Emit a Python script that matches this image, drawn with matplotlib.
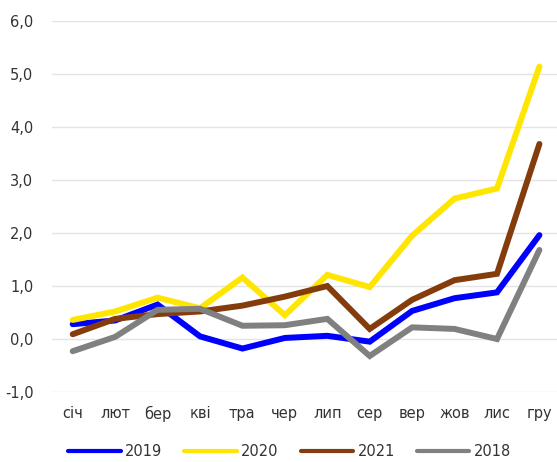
import numpy as np
import matplotlib.pyplot as plt
from matplotlib.ticker import FuncFormatter

months = ['січ', 'лют', 'бер', 'кві', 'тра', 'чер', 'лип', 'сер', 'вер', 'жов', 'лис', 'гру']
y2019 = [0.28, 0.35, 0.65, 0.05, -0.18, 0.02, 0.06, -0.05, 0.53, 0.77, 0.88, 1.96]
y2020 = [0.36, 0.52, 0.78, 0.58, 1.16, 0.45, 1.21, 0.98, 1.95, 2.65, 2.84, 5.14]
y2021 = [0.09, 0.38, 0.47, 0.52, 0.63, 0.80, 1.00, 0.19, 0.74, 1.11, 1.23, 3.68]
y2018 = [-0.23, 0.04, 0.55, 0.57, 0.25, 0.26, 0.38, -0.32, 0.22, 0.19, 0.00, 1.68]

series = [('2019', y2019, '#0000ff'),
          ('2020', y2020, '#ffe600'),
          ('2021', y2021, '#843c0c'),
          ('2018', y2018, '#808080')]

plt.rcParams['font.family'] = 'DejaVu Sans'
f = plt.figure(figsize=(5.57, 4.62), dpi=100)
ax = f.add_axes([0.0925, 0.1515, 0.914, 0.803])

x = np.arange(len(months))
for i, (name, vals, col) in enumerate(series):
    ax.plot(x, vals, color=col, lw=4.3, solid_capstyle='round',
            solid_joinstyle='miter', label=name, zorder=3 + i)

ax.set_xlim(-0.5, 11.5)
ax.set_ylim(-1, 6)
ax.set_yticks(np.arange(-1, 7, 1))
ax.yaxis.set_major_formatter(FuncFormatter(lambda v, p: f'{v:.1f}'.replace('.', ',')))
ax.set_xticks(x)
ax.set_xticklabels(months)
ax.grid(axis='y', color='#e4e4e4', lw=1)
ax.set_axisbelow(True)
for s in ax.spines.values():
    s.set_visible(False)
ax.tick_params(axis='both', length=0, labelsize=10.5, colors='#333333')
ax.tick_params(axis='y', pad=13)
ax.tick_params(axis='x', pad=10)

# legend sits at the very bottom, below the month labels
leg = f.legend(loc='center', bbox_to_anchor=(0.52, 1 - 452 / 462), ncol=4,
               frameon=False, fontsize=10.5, handlelength=3.6, handletextpad=0.3,
               columnspacing=1.5, borderpad=0.2)
for h in leg.get_lines():
    h.set_linewidth(3)
for t in leg.get_texts():
    t.set_color('#333333')

f.savefig('out.png', dpi=100)
